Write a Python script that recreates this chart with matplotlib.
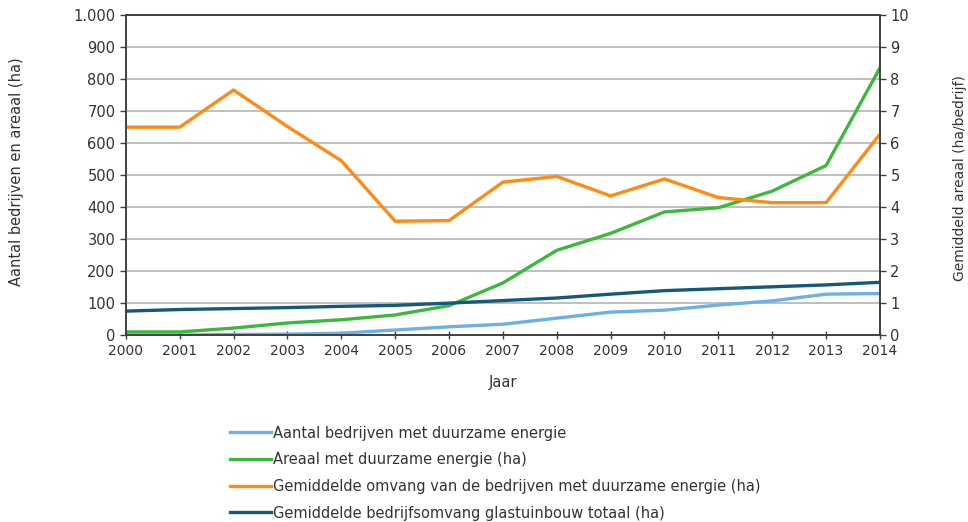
import matplotlib.pyplot as plt
from matplotlib.ticker import FuncFormatter

# Data
years = list(range(2000, 2015))
aantal_bedrijven = [0, 0, 2, 3, 6, 16, 26, 34, 53, 72, 78, 94, 107, 128, 130]
areaal = [10, 10, 22, 38, 48, 63, 92, 163, 265, 318, 385, 398, 450, 530, 835]
omvang_duurzaam = [6.5, 6.5, 7.66, 6.52, 5.45, 3.56, 3.58, 4.78, 4.96, 4.35, 4.88, 4.3, 4.14, 4.14, 6.28]
omvang_totaal = [0.75, 0.8, 0.83, 0.86, 0.9, 0.93, 1.0, 1.08, 1.16, 1.28, 1.39, 1.45, 1.51, 1.57, 1.65]

labels = [
    'Aantal bedrijven met duurzame energie',
    'Areaal met duurzame energie (ha)',
    'Gemiddelde omvang van de bedrijven met duurzame energie (ha)',
    'Gemiddelde bedrijfsomvang glastuinbouw totaal (ha)',
]
colors = ['#6cb0e6', '#3cb83c', '#ff8a14', '#14587a']

plt.rcParams['font.family'] = 'DejaVu Sans'
plt.rcParams['font.size'] = 10
text_col = '#333333'

fig = plt.figure(figsize=(9.68, 5.22), dpi=100)
ax = fig.add_axes([0.130, 0.358, 0.779, 0.613])
ax2 = ax.twinx()

l1, = ax.plot(years, aantal_bedrijven, color=colors[0], lw=2.4, label=labels[0])
l2, = ax.plot(years, areaal, color=colors[1], lw=2.4, label=labels[1])
l3, = ax2.plot(years, omvang_duurzaam, color=colors[2], lw=2.4, label=labels[2])
l4, = ax2.plot(years, omvang_totaal, color=colors[3], lw=2.4, label=labels[3])

ax.set_xlim(2000, 2014)
ax.set_ylim(0, 1000)
ax2.set_ylim(0, 10)
ax.set_xticks(years)
ax.set_yticks(range(0, 1001, 100))
ax2.set_yticks(range(0, 11))
ax.yaxis.set_major_formatter(FuncFormatter(lambda v, p: f'{int(v):,}'.replace(',', '.')))

ax.grid(axis='y', color='#b4b4b4', lw=1.2)
ax.set_axisbelow(True)
for a in (ax, ax2):
    for s in a.spines.values():
        s.set_color('#404040')
        s.set_linewidth(1.2)
    a.tick_params(colors='#404040', labelcolor=text_col, length=4, width=1, labelsize=10.5)
ax.tick_params(axis='x', direction='inout', length=6, labelsize=10)

ax.set_xlabel('Jaar', color=text_col, labelpad=12, fontsize=10.5)
ax.set_ylabel('Aantal bedrijven en areaal (ha)', color=text_col, fontsize=10.5)
ax.yaxis.set_label_coords(-0.135, 0.51)
ax2.set_ylabel('Gemiddeld areaal (ha/bedrijf)', color=text_col, fontsize=10, rotation=90)
ax2.yaxis.set_label_coords(1.097, 0.49)

fig.legend(handles=[l1, l2, l3, l4], loc='upper left', bbox_to_anchor=(0.232, 0.196),
           frameon=False, handlelength=2.8, handletextpad=0.12, labelspacing=0.8,
           fontsize=10.5, labelcolor=text_col, borderaxespad=0)

fig.savefig('out.png', dpi=100)
